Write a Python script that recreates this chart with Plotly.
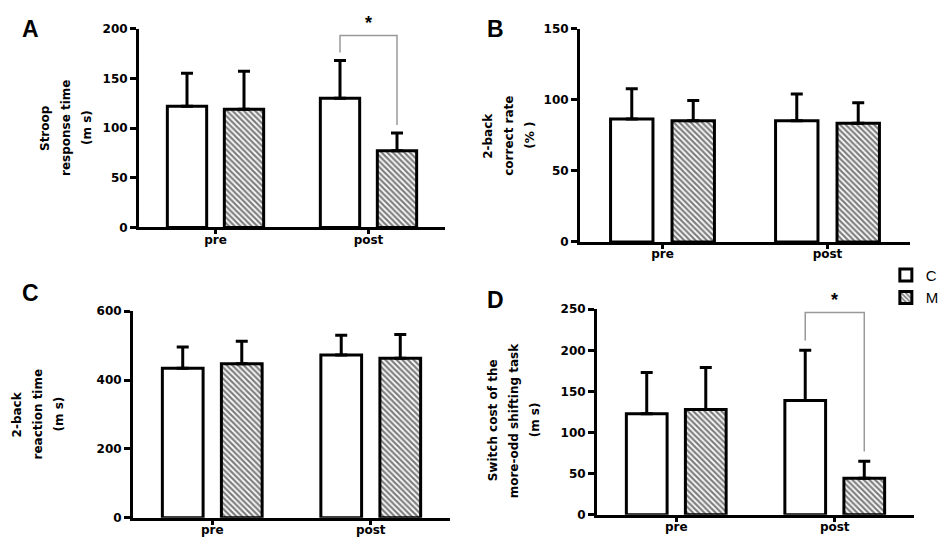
import plotly.graph_objects as go

# groups on the x axis
categories = ['pre', 'post']
groups = ['C', 'M']

# panel A : Stroop response time (mean, upper SD)
stroop_C = [122, 130]
stroop_C_sd = [33, 38]
stroop_M = [119, 77]
stroop_M_sd = [38, 18]

# panel B : 2-back correct rate
rate_C = [86.4, 85.3]
rate_C_sd = [21.3, 18.7]
rate_M = [85.3, 83.5]
rate_M_sd = [14.2, 14.4]

# panel C : 2-back reaction time
rt_C = [434, 473]
rt_C_sd = [62, 57]
rt_M = [447, 463]
rt_M_sd = [66, 69]

# panel D : switch cost
switch_C = [123, 139]
switch_C_sd = [50, 61]
switch_M = [128, 44.5]
switch_M_sd = [51, 20.5]

# significance brackets (bracket level, left end, right end)
sig_A = [193, 176, 103]
sig_D = [246, 212, 77]

FONT = 'Liberation Sans'
TICKFONT = 'DejaVu Sans'
BARGAP = 0.255
GROUPGAP = 0.31

panels = [
  dict(letter='A', c=stroop_C, csd=stroop_C_sd, m=stroop_M, msd=stroop_M_sd,
       rng=[0, 200], dtick=50, title=['Stroop', 'response time', '(m s)'],
       xd=[131/948, 437/948], yd=[1-218/544, 1-14/544],
       tx=37, ty=116, lx=22, ly=14, sig=sig_A),
  dict(letter='B', c=rate_C, csd=rate_C_sd, m=rate_M, msd=rate_M_sd,
       rng=[0, 150], dtick=50, title=['2-back', 'correct rate', '(% )'],
       xd=[572/948, 902/948], yd=[1-233/544, 1-14/544],
       tx=480, ty=124, lx=487, ly=14, sig=None),
  dict(letter='C', c=rt_C, csd=rt_C_sd, m=rt_M, msd=rt_M_sd,
       rng=[0, 600], dtick=200, title=['2-back', 'reaction time', '(m s)'],
       xd=[125/948, 442/948], yd=[1-516/544, 1-304/544],
       tx=9, ty=410, lx=22, ly=285, sig=None),
  dict(letter='D', c=switch_C, csd=switch_C_sd, m=switch_M, msd=switch_M_sd,
       rng=[0, 250], dtick=50, title=['Switch cost of the', 'more-odd shifting task', '(m s)'],
       xd=[589/948, 906/948], yd=[1-513/544, 1-302/544],
       tx=485, ty=416, lx=487, ly=293, sig=sig_D),
]

fig = go.Figure()
annotations = []
shapes = []

# half the distance between the two bars of a group, in category units
half_off = (1 - BARGAP) / 4

for i, p in enumerate(panels):
  n = '' if i == 0 else str(i + 1)
  xr, yr = 'x' + n, 'y' + n

  fig.add_trace(go.Bar(x=[0, 1], y=p['c'], name='C', xaxis=xr, yaxis=yr,
                       marker=dict(color='white', line=dict(color='black', width=3)),
                       error_y=dict(type='data', symmetric=False, array=p['csd'],
                                    arrayminus=[0, 0], color='black', thickness=3, width=6),
                       showlegend=(i == 0), offsetgroup='C'))
  fig.add_trace(go.Bar(x=[0, 1], y=p['m'], name='M', xaxis=xr, yaxis=yr,
                       marker=dict(color='white', line=dict(color='black', width=3),
                                   pattern=dict(shape='\\', fgcolor='black', bgcolor='white',
                                                size=4, solidity=0.55)),
                       error_y=dict(type='data', symmetric=False, array=p['msd'],
                                    arrayminus=[0, 0], color='black', thickness=3, width=6),
                       showlegend=(i == 0), offsetgroup='M'))

  fig.update_layout(**{
    'xaxis' + n: dict(domain=p['xd'], anchor=yr, range=[-0.5, 1.5],
                      tickvals=[0, 1], ticktext=categories,
                      showline=True, linecolor='black', linewidth=3,
                      ticks='outside', ticklen=4, tickwidth=3, tickcolor='black',
                      ticklabelstandoff=-5,
                      showgrid=False, zeroline=False,
                      tickfont=dict(family=TICKFONT, size=12, color='black', weight='bold')),
    'yaxis' + n: dict(domain=p['yd'], anchor=xr, range=p['rng'], dtick=p['dtick'],
                      showline=True, linecolor='black', linewidth=3,
                      ticks='outside', ticklen=6, tickwidth=3, tickcolor='black',
                      showgrid=False, zeroline=False,
                      tickfont=dict(family=TICKFONT, size=12, color='black', weight='bold')),
  })

  # y axis title, one annotation per line
  for k, line in enumerate(p['title']):
    annotations.append(dict(text=line, x=(p['tx'] + 21*k)/948, y=1-p['ty']/544,
                            xref='paper', yref='paper', xanchor='center', yanchor='middle',
                            textangle=-90, showarrow=False,
                            font=dict(family=TICKFONT, size=12, color='black', weight='bold')))
  # panel letter
  annotations.append(dict(text=p['letter'], x=p['lx']/948, y=1-p['ly']/544,
                          xref='paper', yref='paper', xanchor='center', yanchor='middle',
                          showarrow=False,
                          font=dict(family=FONT, size=23, color='black', weight='bold')))

  # significance bracket
  if p['sig'] is not None:
    lvl, left, right = p['sig']
    x0, x1 = 1 - half_off, 1 + half_off
    shapes.append(dict(type='path', xref=xr, yref=yr,
                       path='M %f,%f L %f,%f L %f,%f L %f,%f' % (x0, left, x0, lvl, x1, lvl, x1, right),
                       line=dict(color='#999999', width=1.5)))
    annotations.append(dict(text='*', x=1, y=lvl, xref=xr, yref=yr,
                            xanchor='center', yanchor='bottom',
                            showarrow=False, yshift=1,
                            font=dict(family=FONT, size=18, color='black', weight='bold')))

fig.update_layout(
  width=948, height=544,
  margin=dict(l=0, r=0, t=0, b=0),
  paper_bgcolor='white', plot_bgcolor='white',
  barmode='group', bargap=BARGAP, bargroupgap=GROUPGAP,
  annotations=annotations, shapes=shapes,
  legend=dict(x=0.926, y=0.54, xanchor='left', yanchor='top',
              font=dict(family=FONT, size=15, color='black'),
              tracegroupgap=0, bgcolor='rgba(0,0,0,0)'),
)

fig.write_html('out.html')
